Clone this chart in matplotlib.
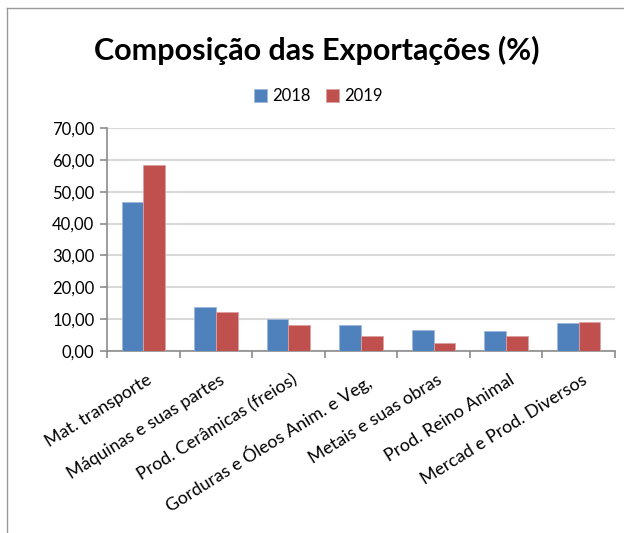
import matplotlib.pyplot as plt
import matplotlib.transforms as mtransforms
import numpy as np
from matplotlib.ticker import FuncFormatter, MultipleLocator

plt.rcParams['font.family'] = ['Lato', 'DejaVu Sans']

categorias = ['Mat. transporte', 'Máquinas e suas partes', 'Prod. Cerâmicas (freios)',
              'Gorduras e Óleos Anim. e Veg,', 'Metais e suas obras',
              'Prod. Reino Animal', 'Mercad e Prod. Diversos']
v2018 = [46.8, 13.7, 10.2, 8.2, 6.6, 6.2, 8.7]
v2019 = [58.4, 12.1, 8.2, 4.6, 2.6, 4.6, 9.1]

azul = '#4F81BD'
vermelho = '#C0504D'
cinza = '#8C8C8C'

fig = plt.figure(figsize=(6.24, 5.33), dpi=100)
ax = fig.add_axes([107/624, 1-351/533, (615-107)/624, (351-128)/533])

x = np.arange(len(categorias))
w = 0.3
ax.bar(x - w/2, v2018, w, color=azul, edgecolor='#9DB9DC', linewidth=0.6, label='2018', zorder=3)
ax.bar(x + w/2, v2019, w, color=vermelho, edgecolor='#DDA09F', linewidth=0.6, label='2019', zorder=3)

ax.set_xlim(-0.5, len(categorias) - 0.5)
ax.set_ylim(0, 70)
ax.yaxis.set_major_locator(MultipleLocator(10))
ax.yaxis.set_major_formatter(FuncFormatter(lambda v, p: f'{v:.2f}'.replace('.', ',')))
ax.yaxis.grid(True, color='#D9D9D9', linewidth=1.5, zorder=0)

# ticks nas fronteiras das categorias
ax.set_xticks(np.arange(-0.5, len(categorias)), minor=False)
ax.set_xticklabels([])
ax.set_xticks(x, minor=True)
labels = ax.set_xticklabels(categorias, minor=True, rotation=32, ha='right', va='top',
                            rotation_mode='anchor', fontsize=12.8)
ax.tick_params(axis='x', which='minor', length=0, pad=15)
deslocamento = mtransforms.ScaledTranslation(3/100, 0, fig.dpi_scale_trans)
for t in labels:
    t.set_transform(t.get_transform() + deslocamento)
ax.tick_params(axis='x', which='major', length=5, color=cinza, width=1.2)
ax.tick_params(axis='y', length=5, color=cinza, width=1.2, labelsize=12, pad=4)

for s in ['top', 'right']:
    ax.spines[s].set_visible(False)
for s in ['left', 'bottom']:
    ax.spines[s].set_color(cinza)
    ax.spines[s].set_linewidth(1.2)

fig.text(0.508, 1-50/533, 'Composição das Exportações (%)', ha='center', va='center',
         fontsize=22, fontweight='bold')
fig.legend(loc='center', bbox_to_anchor=(0.51, 1-96/533), ncol=2, frameon=False,
           fontsize=12, handlelength=0.8, handleheight=0.8, handletextpad=0.3,
           columnspacing=0.9)

# moldura do gráfico
fig.add_artist(plt.Line2D([7/624, 7/624], [0, 1-8/533], color='#9A9A9A', linewidth=1))
fig.add_artist(plt.Line2D([7/624, 1], [1-8/533, 1-8/533], color='#9A9A9A', linewidth=1))

fig.savefig('out.png', dpi=100)
